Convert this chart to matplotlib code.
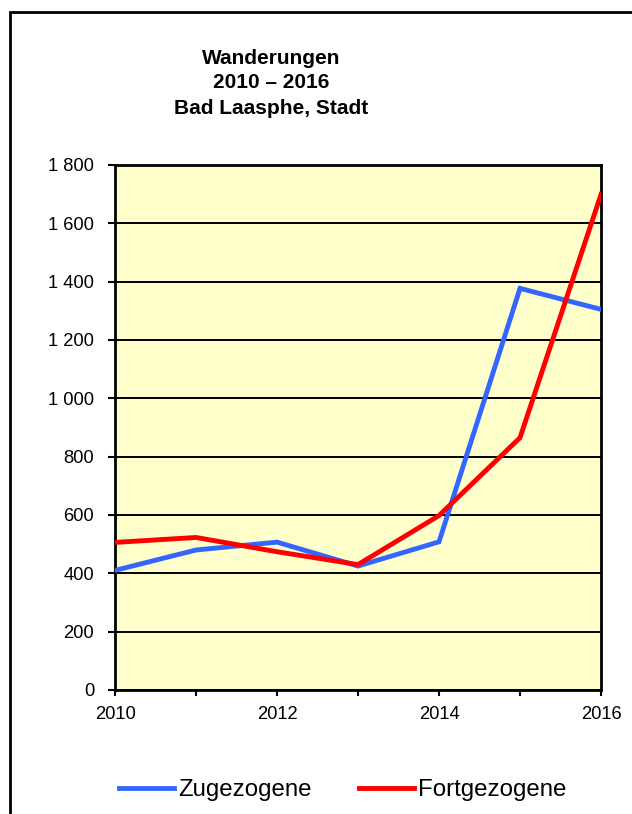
import matplotlib
matplotlib.use('Agg')
from matplotlib import pyplot as plt
from matplotlib.patches import Rectangle
from matplotlib.ticker import FuncFormatter, MultipleLocator

plt.rcParams['font.family'] = ['Liberation Sans', 'DejaVu Sans']

# Data
years = [2010, 2011, 2012, 2013, 2014, 2015, 2016]
zugezogene = [410, 480, 507, 425, 508, 1377, 1305]
fortgezogene = [506, 523, 474, 430, 598, 865, 1699]

title = 'Wanderungen\n2010 – 2016\nBad Laasphe, Stadt'

fig = plt.figure(figsize=(6.32, 8.14), dpi=100)
ax = fig.add_axes([115/632, 1 - 690/814, 486/632, 525/814])
ax.set_facecolor('#FFFFCC')

ax.plot(years, zugezogene, color='#3366FF', linewidth=3.5, label='Zugezogene',
        solid_joinstyle='miter', zorder=3)
ax.plot(years, fortgezogene, color='#FF0000', linewidth=3.5, label='Fortgezogene',
        solid_joinstyle='miter', zorder=3)

# Axes format
ax.set_xlim(2010, 2016)
ax.set_ylim(0, 1800)
ax.yaxis.set_major_locator(MultipleLocator(200))
ax.xaxis.set_major_locator(MultipleLocator(2))
ax.xaxis.set_minor_locator(MultipleLocator(1))
ax.yaxis.set_major_formatter(FuncFormatter(lambda v, p: f'{int(v):,}'.replace(',', ' ')))
ax.grid(axis='y', color='black', linewidth=1.4, zorder=1)
ax.set_axisbelow(True)
for s in ax.spines.values():
    s.set_linewidth(2)
ax.tick_params(axis='both', which='both', direction='out', width=1.5,
               labelsize=13.2, colors='black')
ax.tick_params(axis='y', length=5, pad=10)
ax.tick_params(axis='x', which='both', length=4.5, pad=7)

fig.text(271/632, 1 - 83/814, title, ha='center', va='center', fontsize=15,
         fontweight='bold', linespacing=1.4)

fig.legend(loc='center left', bbox_to_anchor=(119/632, 1 - 790/814), ncol=2,
           frameon=False, fontsize=17.3, handlelength=2.3, handletextpad=0.17,
           columnspacing=1.95, borderpad=0, borderaxespad=0)

# outer chart frame
fig.add_artist(Rectangle((10/632, -0.1), 1.2, 0.1 + 1 - 12/814, transform=fig.transFigure,
                         fill=False, edgecolor='black', linewidth=2))

fig.savefig('out.png', dpi=100)
